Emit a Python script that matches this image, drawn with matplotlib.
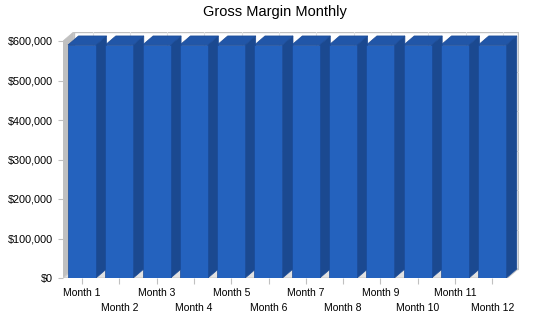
import matplotlib
matplotlib.use("Agg")
import matplotlib.pyplot as plt
from matplotlib.patches import Polygon, Rectangle
import matplotlib.ticker as ticker

plt.rcParams["font.family"] = ["Liberation Sans", "DejaVu Sans"]

months = [f"Month {i}" for i in range(1, 13)]
margin = [590000] * 12
yticks = [0, 100000, 200000, 300000, 400000, 500000, 600000]

# pixel geometry of the fake 3d box
px_cat = 37.3          # pixels per category
px_val = 237 / 600000  # pixels per dollar
dx = 10.5 / px_cat     # depth offset, x data units
dy = 9 / px_val        # depth offset, y data units
bar_off = 5 / px_cat
bar_w = 28 / px_cat
front_right = 444.5 / px_cat
ytop = 600000

front_c = "#2462BE"
side_c = "#1B4990"
top_c = "#2156A8"
edge_c = "#1A4A96"
wall_c = "#C0C0C0"

fig = plt.figure(figsize=(5.5, 3.18), dpi=100)
ax = fig.add_axes([63 / 550, 40 / 318, 456 / 550, 246 / 318])
ax.set_xlim(0, 456 / px_cat)
ax.set_ylim(0, 246 / px_val)
for s in ax.spines.values():
    s.set_visible(False)

# back wall
ax.add_patch(Rectangle((dx, dy), front_right, ytop, facecolor="white",
                       edgecolor=wall_c, lw=1.0, zorder=1))
centers = [i + bar_off + bar_w / 2 for i in range(len(months))]
for v in yticks[1:-1]:
    ax.plot([dx, front_right + dx], [v + dy, v + dy], color="#D4D4D4", lw=0.8, zorder=1.5)
for c in centers:
    ax.plot([c + dx, c + dx], [dy, ytop + dy], color="#E2E2E2", lw=0.8, zorder=1.5)

# left wall + floor
ax.add_patch(Polygon([(0, 0), (0, ytop), (dx, ytop + dy), (dx, dy)],
                     facecolor=wall_c, edgecolor=wall_c, lw=0.5, zorder=2))
ax.add_patch(Polygon([(0, 0), (front_right, 0), (front_right + dx, dy), (dx, dy)],
                     facecolor="#E2E2E2", edgecolor="#C8C8C8", lw=0.8, zorder=2))

# bars
for i, v in enumerate(margin):
    x0 = i + bar_off
    x1 = x0 + bar_w
    ax.add_patch(Polygon([(x1, 0), (x1 + dx, dy), (x1 + dx, v + dy), (x1, v)],
                         facecolor=side_c, edgecolor=edge_c, lw=0.5, zorder=3))
    ax.add_patch(Polygon([(x0, v), (x1, v), (x1 + dx, v + dy), (x0 + dx, v + dy)],
                         facecolor=top_c, edgecolor=edge_c, lw=0.5, zorder=3))
    ax.add_patch(Rectangle((x0, 0), bar_w, v, facecolor=front_c,
                           edgecolor=edge_c, lw=0.5, zorder=4))

ax.set_yticks(yticks)
ax.yaxis.set_major_formatter(ticker.FuncFormatter(lambda y, _: "${:,.0f}".format(y)))
ax.tick_params(axis="y", length=3.6, pad=3.6, color=wall_c, labelsize=7.8, width=0.8)

ax.set_xticks(centers[0::2], months[0::2])
ax.set_xticks(centers[1::2], months[1::2], minor=True)
ax.tick_params(axis="x", which="both", length=4.5, color=wall_c, width=0.8, labelsize=7.5)
ax.tick_params(axis="x", which="major", pad=2.5)
ax.tick_params(axis="x", which="minor", pad=13.5)

fig.text(0.5, 1 - 12 / 318, "Gross Margin Monthly", ha="center", va="center", fontsize=10.5)

fig.savefig("out.png", dpi=100)
